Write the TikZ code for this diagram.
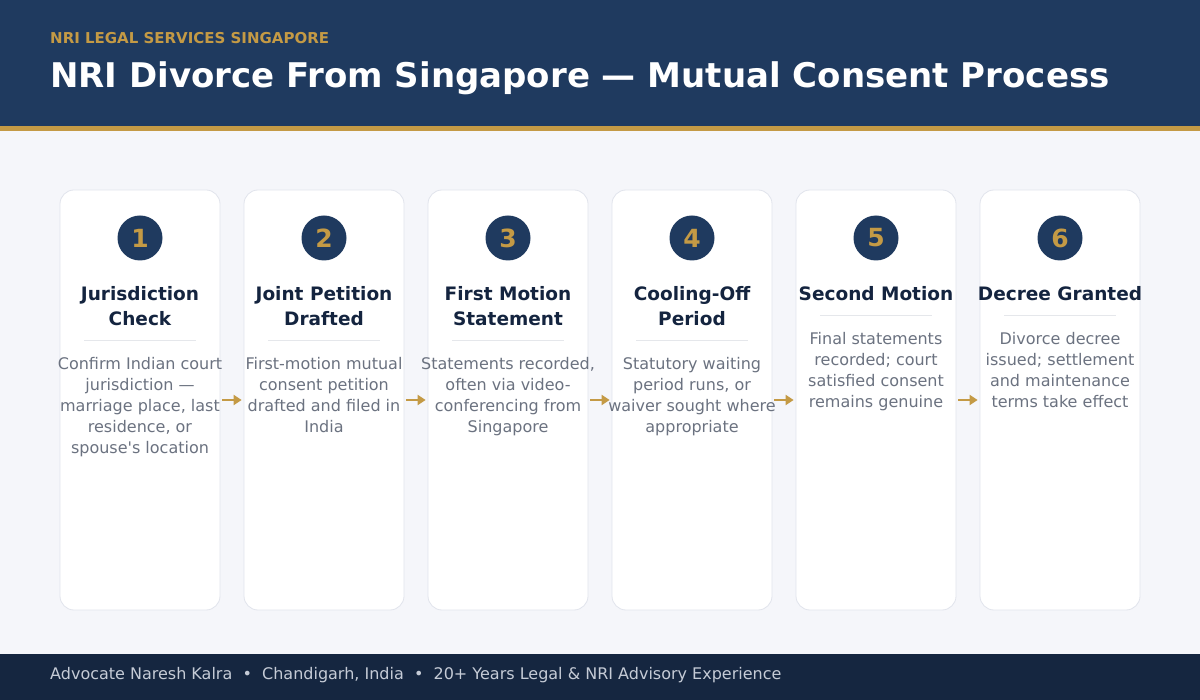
\documentclass[tikz,border=0pt]{standalone}
\usepackage{fontspec}
\setmainfont{DejaVu Sans}
\usetikzlibrary{arrows.meta}
\definecolor{hdr}{HTML}{1F3A5F}
\definecolor{gold}{HTML}{C49A45}
\definecolor{bgc}{HTML}{F5F6FA}
\definecolor{ftr}{HTML}{152640}
\definecolor{cardline}{HTML}{E1E4EC}
\definecolor{ttl}{HTML}{14243F}
\definecolor{desc}{HTML}{6B7280}
\definecolor{ftxt}{HTML}{C5CBD6}
\definecolor{sep}{HTML}{E5E7EB}
\tikzset{
  card/.style={draw=cardline, fill=white, line width=0.8pt, rounded corners=14pt, minimum width=160pt, minimum height=420pt, inner sep=0pt},
  badge/.style={circle, fill=hdr, minimum size=45pt, inner sep=0pt, text=gold, font=\bfseries\fontsize{25}{28}\selectfont},
  ctitle/.style={align=center, text=ttl, font=\bfseries\fontsize{18.5}{25}\selectfont, inner sep=0pt, anchor=north},
  cdesc/.style={align=center, text=desc, font=\fontsize{16}{21}\selectfont, inner sep=0pt, anchor=north},
  flow/.style={draw=gold, line width=2.5pt, -{Triangle[length=8pt,width=10pt]}, shorten <=2pt, shorten >=2pt},
}
\begin{document}
\begin{tikzpicture}[x=1pt,y=-1pt]
\useasboundingbox (0,0) rectangle (1200,700);
\fill[bgc] (0,0) rectangle (1200,700);
\fill[hdr] (0,0) rectangle (1200,126);
\fill[gold] (0,126) rectangle (1200,131);
\fill[ftr] (0,654) rectangle (1200,700);
\node[anchor=base west, inner sep=0pt, text=gold, font=\bfseries\fontsize{15}{18}\selectfont] (kicker) at (50,44) {NRI LEGAL SERVICES SINGAPORE};
\node[anchor=base west, inner sep=0pt, text=white, font=\bfseries\fontsize{34}{40}\selectfont] (title) at (50,88) {NRI Divorce From Singapore — Mutual Consent Process};
\node[anchor=base west, inner sep=0pt, text=ftxt, font=\fontsize{16}{19}\selectfont] (footer) at (50,679) {Advocate Naresh Kalra \ •\ \ Chandigarh, India \ •\ \ 20+ Years Legal \& NRI Advisory Experience};
\foreach \i/\t/\s/\d/\txt in {
  1/{Jurisdiction\\Check}/340/357/{Confirm Indian court\\jurisdiction —\\marriage place, last\\residence, or\\spouse\textquotesingle s location},
  2/{Joint Petition\\Drafted}/340/357/{First-motion mutual\\consent petition\\drafted and filed in\\India},
  3/{First Motion\\Statement}/340/357/{Statements recorded,\\often via video-\\conferencing from\\Singapore},
  4/{Cooling-Off\\Period}/340/357/{Statutory waiting\\period runs, or\\waiver sought where\\appropriate},
  5/{Second Motion}/315/332/{Final statements\\recorded; court\\satisfied consent\\remains genuine},
  6/{Decree Granted}/315/332/{Divorce decree\\issued; settlement\\and maintenance\\terms take effect}} {
  \pgfmathsetmacro{\cx}{140+184*(\i-1)}
  \node[card] (card\i) at (\cx,400) {};
  \node[badge] (badge\i) at (\cx,238) {\i};
  \node[ctitle] (title\i) at (\cx,286) {\t};
  \draw[sep, line width=0.8pt] (\cx-56,\s) -- (\cx+56,\s);
  \node[cdesc] (desc\i) at (\cx,\d) {\txt};
}
\foreach \a/\b in {1/2,2/3,3/4,4/5,5/6} {
  \draw[flow] (card\a.east) -- (card\b.west);
}
\end{tikzpicture}
\end{document}
